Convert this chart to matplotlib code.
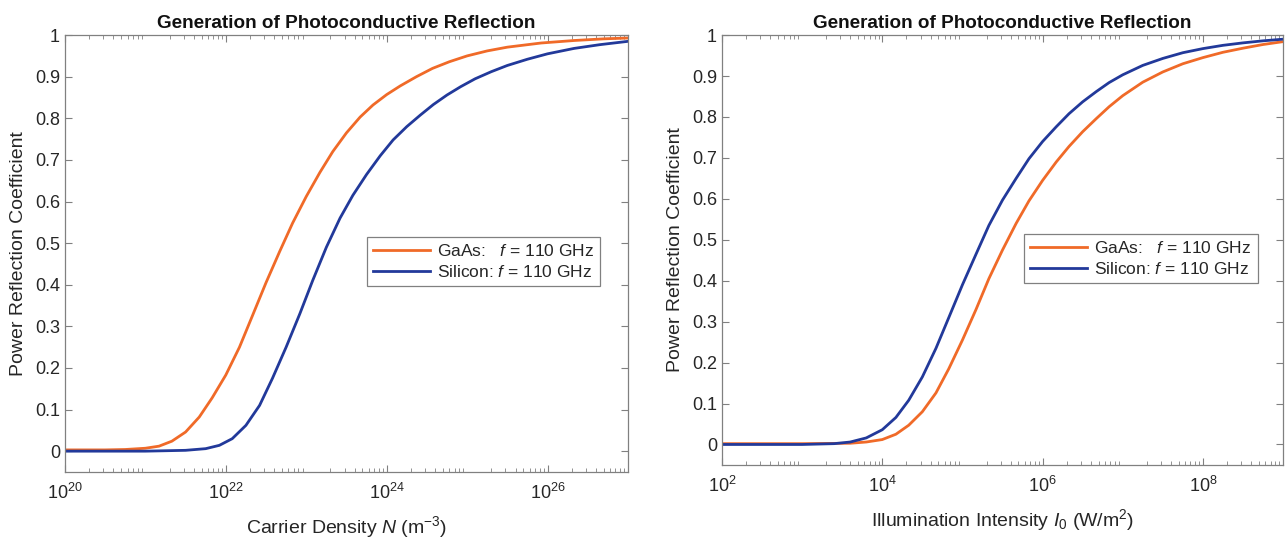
import numpy as np
import matplotlib
matplotlib.use("Agg")
import matplotlib.pyplot as plt
from matplotlib.ticker import LogLocator, FixedLocator, NullFormatter

plt.rcParams['font.family'] = ['Liberation Sans', 'DejaVu Sans']
plt.rcParams['mathtext.fontset'] = 'custom'
plt.rcParams['mathtext.rm'] = 'Liberation Sans'
plt.rcParams['mathtext.it'] = 'Liberation Sans:italic'

# ---- Data (log10 of x) ----
gaas_density_log = [20, 20.5, 20.75, 21, 21.17, 21.33, 21.5, 21.67, 21.83, 22, 22.17, 22.33,
                    22.5, 22.67, 22.83, 23, 23.17, 23.33, 23.5, 23.67, 23.83, 24.0, 24.17,
                    24.37, 24.57, 24.78, 25.0, 25.25, 25.5, 25.92, 26.33, 26.7, 27]
gaas_density = [0.003, 0.003, 0.004, 0.007, 0.012, 0.024, 0.046, 0.082, 0.128, 0.183, 0.25, 0.325,
                0.405, 0.48, 0.548, 0.612, 0.670, 0.720, 0.765, 0.803, 0.832, 0.857, 0.878,
                0.9, 0.92, 0.936, 0.95, 0.962, 0.971, 0.981, 0.987, 0.991, 0.993]

si_density_log = [20, 21, 21.5, 21.75, 21.92, 22.08, 22.25, 22.42, 22.58, 22.75, 22.92, 23.08,
                  23.25, 23.42, 23.58, 23.75, 23.92, 24.08, 24.25, 24.42, 24.58, 24.75, 24.92,
                  25.1, 25.3, 25.5, 25.75, 26.0, 26.33, 26.65, 27]
si_density = [0.0, 0.0, 0.002, 0.006, 0.014, 0.03, 0.062, 0.11, 0.175, 0.25, 0.33, 0.41,
              0.49, 0.56, 0.615, 0.665, 0.71, 0.748, 0.78, 0.808, 0.833, 0.856, 0.876,
              0.895, 0.912, 0.927, 0.942, 0.955, 0.968, 0.977, 0.985]

gaas_intensity_log = [2, 3, 3.6, 3.8, 4.0, 4.17, 4.33, 4.5, 4.67, 4.83, 5.0, 5.17, 5.33, 5.5,
                      5.67, 5.83, 6.0, 6.17, 6.33, 6.5, 6.67, 6.83, 7.0, 7.25, 7.5, 7.75,
                      8.0, 8.25, 8.5, 8.75, 9.0]
gaas_intensity = [0.002, 0.002, 0.003, 0.006, 0.012, 0.025, 0.047, 0.08, 0.126, 0.185, 0.255,
                  0.33, 0.405, 0.475, 0.54, 0.595, 0.645, 0.69, 0.728, 0.764, 0.796, 0.825,
                  0.852, 0.885, 0.91, 0.93, 0.945, 0.958, 0.968, 0.977, 0.984]

si_intensity_log = [2, 3, 3.4, 3.6, 3.8, 4.0, 4.17, 4.33, 4.5, 4.67, 4.83, 5.0, 5.17, 5.33,
                    5.5, 5.67, 5.83, 6.0, 6.17, 6.33, 6.5, 6.67, 6.83, 7.0, 7.25, 7.5, 7.75,
                    8.0, 8.25, 8.5, 8.75, 9.0]
si_intensity = [0.0, 0.0, 0.002, 0.006, 0.016, 0.036, 0.066, 0.108, 0.165, 0.235, 0.31, 0.39,
                0.465, 0.535, 0.597, 0.65, 0.698, 0.74, 0.776, 0.808, 0.837, 0.862, 0.884,
                0.903, 0.926, 0.943, 0.957, 0.967, 0.975, 0.981, 0.986, 0.99]

series_labels = ['GaAs:   $\\it{f}$ = 110 GHz', 'Silicon: $\\it{f}$ = 110 GHz']
title = 'Generation of Photoconductive Reflection'
ylabel = 'Power Reflection Coefficient'
xlabels = ['Carrier Density $\\it{N}$ (m$^{-3}$)', 'Illumination Intensity $\\it{I}_0$ (W/m$^2$)']
yticks = [0, 0.1, 0.2, 0.3, 0.4, 0.5, 0.6, 0.7, 0.8, 0.9, 1]
ytick_labels = ['0', '0.1', '0.2', '0.3', '0.4', '0.5', '0.6', '0.7', '0.8', '0.9', '1']

orange = '#F06A28'
blue = '#22399A'
spine_c = '#808080'
text_c = '#262626'

fig = plt.figure(figsize=(12.86, 5.4), dpi=100)
ax1 = fig.add_axes([0.0505, 0.126, 0.4378, 0.809])
ax2 = fig.add_axes([0.5614, 0.139, 0.4363, 0.796])

panels = [
    (ax1, gaas_density_log, gaas_density, si_density_log, si_density,
     (1e20, 1e27), [1e20, 1e22, 1e24, 1e26], (0.966, 0.558)),
    (ax2, gaas_intensity_log, gaas_intensity, si_intensity_log, si_intensity,
     (1e2, 1e9), [1e2, 1e4, 1e6, 1e8], (0.970, 0.558)),
]

for i, (ax, gx, g, sx, s, xlim, xt, anchor) in enumerate(panels):
    ax.plot(np.power(10.0, np.array(gx)), g, color=orange, lw=2.0, label=series_labels[0],
            solid_joinstyle='round')
    ax.plot(np.power(10.0, np.array(sx)), s, color=blue, lw=2.0, label=series_labels[1],
            solid_joinstyle='round')
    ax.set_xscale('log')
    ax.set_xlim(*xlim)
    ax.set_ylim(-0.05, 1.0)
    ax.xaxis.set_major_locator(FixedLocator(xt))
    ax.xaxis.set_minor_locator(LogLocator(base=10, subs=np.arange(2, 10), numticks=100))
    ax.xaxis.set_minor_formatter(NullFormatter())
    ax.set_yticks(yticks)
    ax.set_yticklabels(ytick_labels)
    ax.tick_params(axis='both', which='both', direction='in', top=True, right=True,
                   colors=spine_c, labelcolor=text_c, labelsize=13)
    ax.tick_params(axis='both', which='major', length=5, width=0.8)
    ax.tick_params(axis='x', which='minor', length=3, width=0.6)
    ax.tick_params(axis='x', which='major', pad=8)
    for sp in ax.spines.values():
        sp.set_color(spine_c)
        sp.set_linewidth(0.9)
    ax.set_title(title, fontsize=13.6, fontweight='bold', color='#111111', pad=5)
    ax.set_ylabel(ylabel, fontsize=14, color=text_c, labelpad=6)
    ax.set_xlabel(xlabels[i], fontsize=14, color=text_c, labelpad=8)
    leg = ax.legend(loc='upper right', bbox_to_anchor=anchor, fontsize=12.5,
                    frameon=True, fancybox=False, framealpha=1, edgecolor=spine_c,
                    handlelength=3.3, handletextpad=0.4, borderpad=0.35, labelspacing=0.3)
    leg.get_frame().set_linewidth(0.9)
    for t in leg.get_texts():
        t.set_color(text_c)

fig.savefig('out.png', dpi=100)
